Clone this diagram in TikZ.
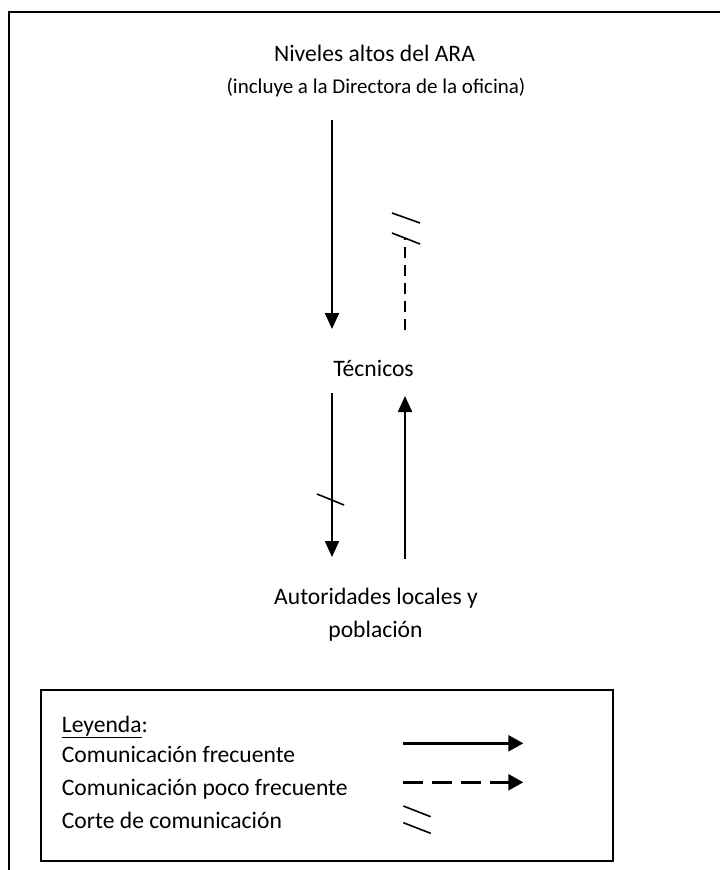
\documentclass[tikz,border=0pt]{standalone}
\usepackage{fontspec}
\setmainfont{Carlito}
\usetikzlibrary{arrows.meta}
\tikzset{
  lbl/.style={font=\fontsize{23.6}{33}\selectfont, inner sep=0pt, anchor=base},
  sublbl/.style={font=\fontsize{21}{28}\selectfont, inner sep=0pt, anchor=base},
  legtxt/.style={font=\fontsize{23.6}{30}\selectfont, inner sep=0pt, anchor=base west},
  flow/.style={line width=2.2pt, -{Triangle[length=16pt,width=14pt]}},
  rare/.style={line width=1.6pt, dash pattern=on 11pt off 7pt},
  cut/.style={line width=1.6pt},
  legflow/.style={line width=2.4pt, -{Triangle[length=15pt,width=16pt]}},
  legrare/.style={line width=2.4pt, dash pattern=on 20pt off 9pt, -{Triangle[length=15pt,width=16pt]}},
  frame/.style={line width=2pt}
}
\begin{document}
\begin{tikzpicture}[x=1pt,y=-1pt]
\useasboundingbox (0,0) rectangle (720,870);
\draw[frame] (9,870) -- (9,12) -- (720,12);

% texts
\node[lbl] (ara) at (374.5,61.5) {Niveles altos del ARA};
\node[sublbl] (ara2) at (376,93.5) {(incluye a la Directora de la oficina)};
\node[lbl] (tec) at (373.5,376) {Técnicos};
\node[lbl] (aut) at (376,604) {Autoridades locales y};
\node[lbl] (pob) at (375.5,637) {población};

% connector end points
\coordinate (a1) at (332,120);
\coordinate (a2) at (332,329);
\coordinate (d1) at (405,330);
\coordinate (d2) at (405,238);
\coordinate (b1) at (332,393);
\coordinate (b2) at (332,557);
\coordinate (c1) at (405,559);
\coordinate (c2) at (405,396);

\draw[flow] (a1) -- (a2);
\draw[rare] (d1) -- (d2);
\draw[cut] (392,213) -- (420,223);
\draw[cut] (392,233) -- (420,244);
\draw[flow] (b1) -- (b2);
\draw[cut] (317,494) -- (344,505);
\draw[flow] (c1) -- (c2);

% legend
\draw[frame] (41,690) rectangle (613,861);
\node[legtxt] (ley) at (61.7,732) {\underline{Leyenda}:};
\node[legtxt] (l1) at (61.7,762) {Comunicación frecuente};
\node[legtxt] (l2) at (61.7,795) {Comunicación poco frecuente};
\node[legtxt] (l3) at (61.7,828) {Corte de comunicación};
\coordinate (s1) at (402.7,743.3);
\coordinate (s2) at (523.3,743.3);
\coordinate (p1) at (402.7,782.3);
\coordinate (p2) at (523.3,782.3);
\draw[legflow] (s1) -- (s2);
\draw[legrare] (p1) -- (p2);
\draw[cut] (403.3,806) -- (430.7,816.7);
\draw[cut] (403.3,822.7) -- (430.7,833.3);
\end{tikzpicture}
\end{document}
